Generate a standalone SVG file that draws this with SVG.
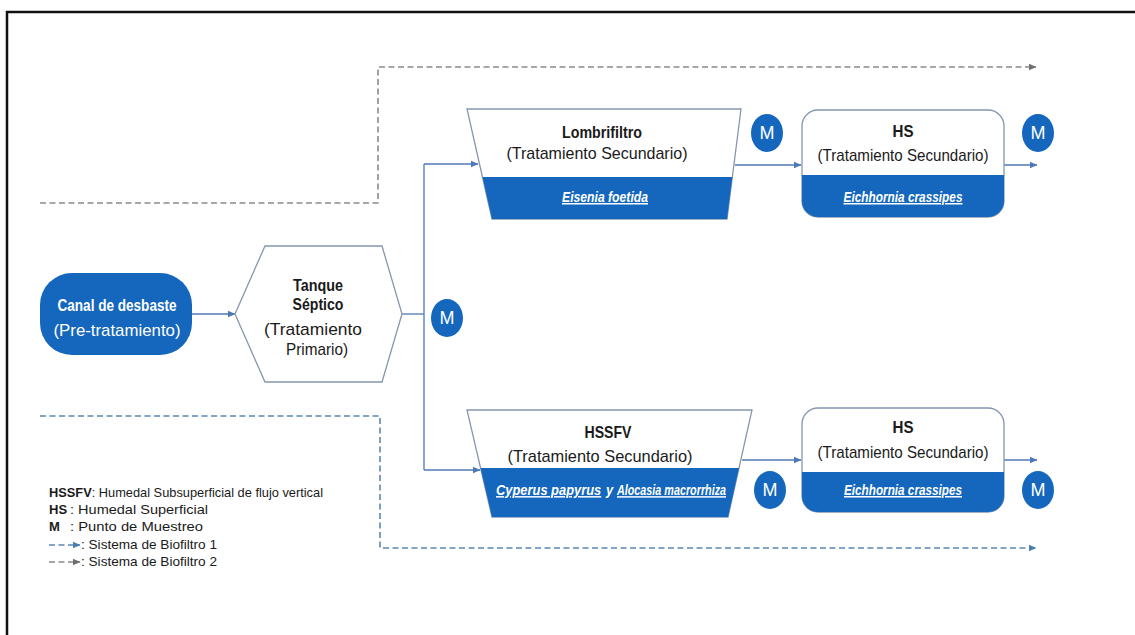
<svg xmlns="http://www.w3.org/2000/svg" width="1135" height="635" viewBox="0 0 1135 635">
<defs>
<style>
text{font-family:"Liberation Sans",Arial,sans-serif;fill:#1a1a1a}
.b{font-weight:bold}
.c{text-anchor:middle}
.t{font-size:17px}
.mt{font-size:18px}
.sp{font-size:15px;font-weight:bold;font-style:italic;fill:#fff}
.u{text-decoration:underline}
.w{fill:#fff}
.lg{font-size:13px}
.box{fill:#fff;stroke:#8597b0;stroke-width:1.3}
.band{fill:#1467bd}
.conn{fill:none;stroke:#4e79b8;stroke-width:1.3}
.d1{fill:none;stroke:#5a88b2;stroke-width:1.6;stroke-dasharray:6 3.5}
.d2{fill:none;stroke:#8a8a8a;stroke-width:1.6;stroke-dasharray:6 3.5}
.m{fill:#1467bd}
</style>
<marker id="ab" markerWidth="8" markerHeight="8" refX="7" refY="4" orient="auto" markerUnits="userSpaceOnUse"><path d="M0,0.8 L7.5,4 L0,7.2 Z" fill="#4e79b8"/></marker>
<marker id="ad1" markerWidth="8" markerHeight="8" refX="7" refY="4" orient="auto" markerUnits="userSpaceOnUse"><path d="M0,0.8 L7.5,4 L0,7.2 Z" fill="#4a7fb0"/></marker>
<marker id="ad2" markerWidth="8" markerHeight="8" refX="7" refY="4" orient="auto" markerUnits="userSpaceOnUse"><path d="M0,0.8 L7.5,4 L0,7.2 Z" fill="#6f6f6f"/></marker>
</defs>
<rect x="7" y="12" width="1140" height="640" fill="#fff" stroke="#111" stroke-width="2.5"/>

<g id="connectors">
<path class="d2" d="M40,203 H378 V67 H1036" marker-end="url(#ad2)"/>
<path class="d1" d="M40,416 H380 V548 H1036" marker-end="url(#ad1)"/>
<path class="conn" d="M192,314 H235" marker-end="url(#ab)"/>
<path class="conn" d="M402,314 H424"/>
<path class="conn" d="M424,164 V470"/>
<path class="conn" d="M424,164 H478" marker-end="url(#ab)"/>
<path class="conn" d="M424,470 H480" marker-end="url(#ab)"/>
<path class="conn" d="M735,165 H801" marker-end="url(#ab)"/>
<path class="conn" d="M1004,165 H1037" marker-end="url(#ab)"/>
<path class="conn" d="M742,460 H801" marker-end="url(#ab)"/>
<path class="conn" d="M1004,460 H1037" marker-end="url(#ab)"/>
</g>

<g id="canal">
<rect x="40" y="273" width="152" height="82" rx="32" fill="#1467bd"/>
<text class="t b c w" x="117" y="311" textLength="119" lengthAdjust="spacingAndGlyphs">Canal de desbaste</text>
<text class="t c w" x="117" y="336" textLength="127" lengthAdjust="spacingAndGlyphs">(Pre-tratamiento)</text>
</g>

<g id="tanque">
<polygon class="box" points="235,314 265,246 382,246 402,314 382,382 265,382"/>
<text class="t b c" x="318" y="291" textLength="50" lengthAdjust="spacingAndGlyphs">Tanque</text>
<text class="t b c" x="318" y="310" textLength="51" lengthAdjust="spacingAndGlyphs">Séptico</text>
<text class="t c" x="313" y="335" textLength="98" lengthAdjust="spacingAndGlyphs">(Tratamiento</text>
<text class="t c" x="317" y="355" textLength="62" lengthAdjust="spacingAndGlyphs">Primario)</text>
</g>

<g id="m1"><ellipse class="m" cx="447" cy="318" rx="16" ry="19"/><text class="mt c w" x="447" y="324">M</text></g>

<g id="lombrifiltro">
<polygon class="box" points="467,109 741,109 727,219 492,219"/>
<polygon class="band" points="482.5,177 732.3,177 727,219 492,219"/>
<text class="t b c" x="602" y="138" textLength="80" lengthAdjust="spacingAndGlyphs">Lombrifiltro</text>
<text class="t c" x="597" y="159" textLength="181" lengthAdjust="spacingAndGlyphs">(Tratamiento Secundario)</text>
<text class="sp u c" x="605" y="202" textLength="86" lengthAdjust="spacingAndGlyphs">Eisenia foetida</text>
</g>

<g id="m2"><ellipse class="m" cx="767" cy="133" rx="16" ry="19"/><text class="mt c w" x="767" y="139">M</text></g>

<g id="hs1">
<rect class="box" x="802" y="110" width="202" height="107" rx="16"/>
<path class="band" d="M802,175 H1004 V201 A16,16 0 0 1 988,217 H818 A16,16 0 0 1 802,201 Z"/>
<text class="t b c" x="903" y="137" textLength="21" lengthAdjust="spacingAndGlyphs">HS</text>
<text class="t c" x="903" y="161" textLength="171" lengthAdjust="spacingAndGlyphs">(Tratamiento Secundario)</text>
<text class="sp u c" x="903" y="202" textLength="119" lengthAdjust="spacingAndGlyphs">Eichhornia crassipes</text>
</g>

<g id="m3"><ellipse class="m" cx="1038" cy="133" rx="16" ry="19"/><text class="mt c w" x="1038" y="139">M</text></g>

<g id="hssfv">
<polygon class="box" points="467,410 752,410 728,517 492,517"/>
<polygon class="band" points="480.6,468 739,468 728,517 492,517"/>
<text class="t b c" x="608" y="438" textLength="47" lengthAdjust="spacingAndGlyphs">HSSFV</text>
<text class="t c" x="600" y="462" textLength="185" lengthAdjust="spacingAndGlyphs">(Tratamiento Secundario)</text>
<text class="sp u" transform="translate(496,495) scale(0.86,1)">Cyperus papyrus</text>
<text class="sp" transform="translate(606,495) scale(0.86,1)">y</text>
<text class="sp u" transform="translate(617,495) scale(0.72,1)">Alocasia macrorrhiza</text>
</g>

<g id="m4"><ellipse class="m" cx="770" cy="490" rx="16" ry="19"/><text class="mt c w" x="770" y="496">M</text></g>

<g id="hs2">
<rect class="box" x="802" y="408" width="202" height="104" rx="16"/>
<path class="band" d="M802,472 H1004 V496 A16,16 0 0 1 988,512 H818 A16,16 0 0 1 802,496 Z"/>
<text class="t b c" x="903" y="433" textLength="21" lengthAdjust="spacingAndGlyphs">HS</text>
<text class="t c" x="903" y="458" textLength="171" lengthAdjust="spacingAndGlyphs">(Tratamiento Secundario)</text>
<text class="sp u c" x="903" y="495" textLength="118" lengthAdjust="spacingAndGlyphs">Eichhornia crassipes</text>
</g>

<g id="m5"><ellipse class="m" cx="1038" cy="490" rx="16" ry="19"/><text class="mt c w" x="1038" y="496">M</text></g>

<g id="legend">
<text class="lg" x="49" y="497" textLength="274" lengthAdjust="spacingAndGlyphs"><tspan class="b">HSSFV</tspan>: Humedal Subsuperficial de flujo vertical</text>
<text class="lg b" x="49" y="514">HS</text>
<text class="lg" x="70" y="514" textLength="138" lengthAdjust="spacingAndGlyphs">: Humedal Superficial</text>
<text class="lg b" x="49" y="531">M</text>
<text class="lg" x="70" y="531" textLength="133" lengthAdjust="spacingAndGlyphs">: Punto de Muestreo</text>
<path class="d1" d="M49,545 H80" stroke-dasharray="5 3" marker-end="url(#ad1)"/>
<text class="lg" x="81" y="549" textLength="136" lengthAdjust="spacingAndGlyphs">: Sistema de Biofiltro 1</text>
<path class="d2" d="M49,562 H80" stroke-dasharray="5 3" marker-end="url(#ad2)"/>
<text class="lg" x="81" y="566" textLength="136" lengthAdjust="spacingAndGlyphs">: Sistema de Biofiltro 2</text>
</g>
</svg>
